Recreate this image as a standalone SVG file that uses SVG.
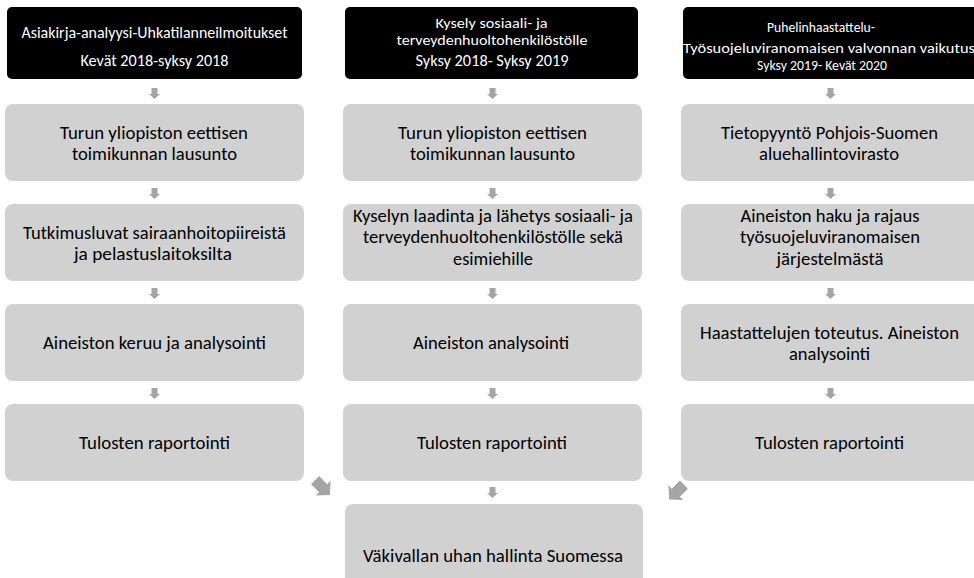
<svg xmlns="http://www.w3.org/2000/svg" width="974" height="578" viewBox="0 0 974 578">
<style>
.hdr{fill:#000000}
.box{fill:#d1d1d1}
text{font-family:Carlito,Lato,"Liberation Sans",sans-serif;text-anchor:middle;font-weight:400}
.ht{fill:#ffffff;font-size:16px}
.ht2{fill:#ffffff;font-size:14px}
.ht3{fill:#ffffff;font-size:13.6px}
.bt{fill:#000000;font-size:18.5px}
.arr{fill:#a5a5a5}
</style>
<defs>
<path id="arr" d="M-3,-5.5 H3 V0.5 H5.5 L0,5.5 L-5.5,0.5 H-3 Z"/>
</defs>
<rect width="974" height="578" fill="#ffffff"/>

<g id="connectors" class="arr">
<use href="#arr" x="154.5" y="93.5"/>
<use href="#arr" x="154.5" y="193.5"/>
<use href="#arr" x="154.5" y="293.5"/>
<use href="#arr" x="154.5" y="393.5"/>
<use href="#arr" x="492.5" y="93.5"/>
<use href="#arr" x="492.5" y="193.5"/>
<use href="#arr" x="492.5" y="293.5"/>
<use href="#arr" x="492.5" y="393.5"/>
<use href="#arr" x="492.5" y="492.5"/>
<use href="#arr" x="830.5" y="93.5"/>
<use href="#arr" x="830.5" y="193.5"/>
<use href="#arr" x="830.5" y="293.5"/>
<use href="#arr" x="830.5" y="393.5"/>
<use href="#arr" transform="translate(322.5,487.5) rotate(-45) scale(1.9)"/>
<use href="#arr" transform="translate(676.5,492) rotate(45) scale(1.9)"/>
</g>

<g id="h1">
<rect class="hdr" x="7" y="7" width="295" height="72" rx="5"/>
<text class="ht" x="154.5" y="37.5" textLength="266" lengthAdjust="spacingAndGlyphs">Asiakirja-analyysi-Uhkatilanneilmoitukset</text>
<text class="ht" x="154.5" y="65.5" textLength="148" lengthAdjust="spacingAndGlyphs">Kevät 2018-syksy 2018</text>
</g>
<g id="h2">
<rect class="hdr" x="345" y="7" width="293" height="72" rx="5"/>
<text class="ht2" x="491.5" y="28" textLength="112" lengthAdjust="spacingAndGlyphs">Kysely sosiaali- ja</text>
<text class="ht2" x="492" y="45" textLength="191" lengthAdjust="spacingAndGlyphs">terveydenhuoltohenkilöstölle</text>
<text class="ht" x="492" y="65.5" textLength="153" lengthAdjust="spacingAndGlyphs">Syksy 2018- Syksy 2019</text>
</g>
<g id="h3">
<rect class="hdr" x="683" y="7" width="300" height="72" rx="5"/>
<text class="ht3" x="821" y="32" textLength="108" lengthAdjust="spacingAndGlyphs">Puhelinhaastattelu-</text>
<text class="ht3" x="829" y="53" textLength="292" lengthAdjust="spacingAndGlyphs">Työsuojeluviranomaisen valvonnan vaikutus</text>
<text class="ht3" x="822" y="70" textLength="130" lengthAdjust="spacingAndGlyphs">Syksy 2019- Kevät 2020</text>
</g>

<g id="c1b1">
<rect class="box" x="5" y="104" width="299" height="77" rx="8"/>
<text class="bt" x="154" y="138.5" textLength="188" lengthAdjust="spacingAndGlyphs">Turun yliopiston eettisen</text>
<text class="bt" x="154.5" y="160" textLength="165" lengthAdjust="spacingAndGlyphs">toimikunnan lausunto</text>
</g>
<g id="c1b2">
<rect class="box" x="5" y="204" width="299" height="77" rx="8"/>
<text class="bt" x="154.5" y="238.5" textLength="263" lengthAdjust="spacingAndGlyphs">Tutkimusluvat sairaanhoitopiireistä</text>
<text class="bt" x="153" y="260" textLength="158" lengthAdjust="spacingAndGlyphs">ja pelastuslaitoksilta</text>
</g>
<g id="c1b3">
<rect class="box" x="5" y="304" width="299" height="77" rx="8"/>
<text class="bt" x="154.5" y="349" textLength="223" lengthAdjust="spacingAndGlyphs">Aineiston keruu ja analysointi</text>
</g>
<g id="c1b4">
<rect class="box" x="5" y="404" width="299" height="77" rx="8"/>
<text class="bt" x="154.5" y="449" textLength="151" lengthAdjust="spacingAndGlyphs">Tulosten raportointi</text>
</g>

<g id="c2b1">
<rect class="box" x="343" y="104" width="299" height="77" rx="8"/>
<text class="bt" x="492.5" y="138.5" textLength="189" lengthAdjust="spacingAndGlyphs">Turun yliopiston eettisen</text>
<text class="bt" x="492.5" y="160" textLength="165" lengthAdjust="spacingAndGlyphs">toimikunnan lausunto</text>
</g>
<g id="c2b2">
<rect class="box" x="343" y="204" width="299" height="77" rx="8"/>
<text class="bt" x="493" y="221.5" textLength="280" lengthAdjust="spacingAndGlyphs">Kyselyn laadinta ja lähetys sosiaali- ja</text>
<text class="bt" x="493" y="243" textLength="260" lengthAdjust="spacingAndGlyphs">terveydenhuoltohenkilöstölle sekä</text>
<text class="bt" x="493" y="264.5" textLength="80" lengthAdjust="spacingAndGlyphs">esimiehille</text>
</g>
<g id="c2b3">
<rect class="box" x="343" y="304" width="299" height="77" rx="8"/>
<text class="bt" x="491" y="349" textLength="156" lengthAdjust="spacingAndGlyphs">Aineiston analysointi</text>
</g>
<g id="c2b4">
<rect class="box" x="343" y="404" width="299" height="77" rx="8"/>
<text class="bt" x="492" y="449" textLength="150" lengthAdjust="spacingAndGlyphs">Tulosten raportointi</text>
</g>

<g id="c3b1">
<rect class="box" x="681" y="104" width="299" height="77" rx="8"/>
<text class="bt" x="829.5" y="138.5" textLength="217" lengthAdjust="spacingAndGlyphs">Tietopyyntö Pohjois-Suomen</text>
<text class="bt" x="829" y="160" textLength="140" lengthAdjust="spacingAndGlyphs">aluehallintovirasto</text>
</g>
<g id="c3b2">
<rect class="box" x="681" y="204" width="299" height="77" rx="8"/>
<text class="bt" x="830" y="221.5" textLength="179" lengthAdjust="spacingAndGlyphs">Aineiston haku ja rajaus</text>
<text class="bt" x="830" y="243" textLength="180" lengthAdjust="spacingAndGlyphs">työsuojeluviranomaisen</text>
<text class="bt" x="830" y="264.5" textLength="107" lengthAdjust="spacingAndGlyphs">järjestelmästä</text>
</g>
<g id="c3b3">
<rect class="box" x="681" y="304" width="299" height="77" rx="8"/>
<text class="bt" x="829.5" y="338.5" textLength="259" lengthAdjust="spacingAndGlyphs">Haastattelujen toteutus. Aineiston</text>
<text class="bt" x="829.5" y="360" textLength="81" lengthAdjust="spacingAndGlyphs">analysointi</text>
</g>
<g id="c3b4">
<rect class="box" x="681" y="404" width="299" height="77" rx="8"/>
<text class="bt" x="829.5" y="449" textLength="149" lengthAdjust="spacingAndGlyphs">Tulosten raportointi</text>
</g>

<g id="final">
<rect class="box" x="345" y="504" width="298" height="82" rx="8"/>
<text class="bt" x="493" y="562" textLength="260" lengthAdjust="spacingAndGlyphs">Väkivallan uhan hallinta Suomessa</text>
</g>
</svg>
